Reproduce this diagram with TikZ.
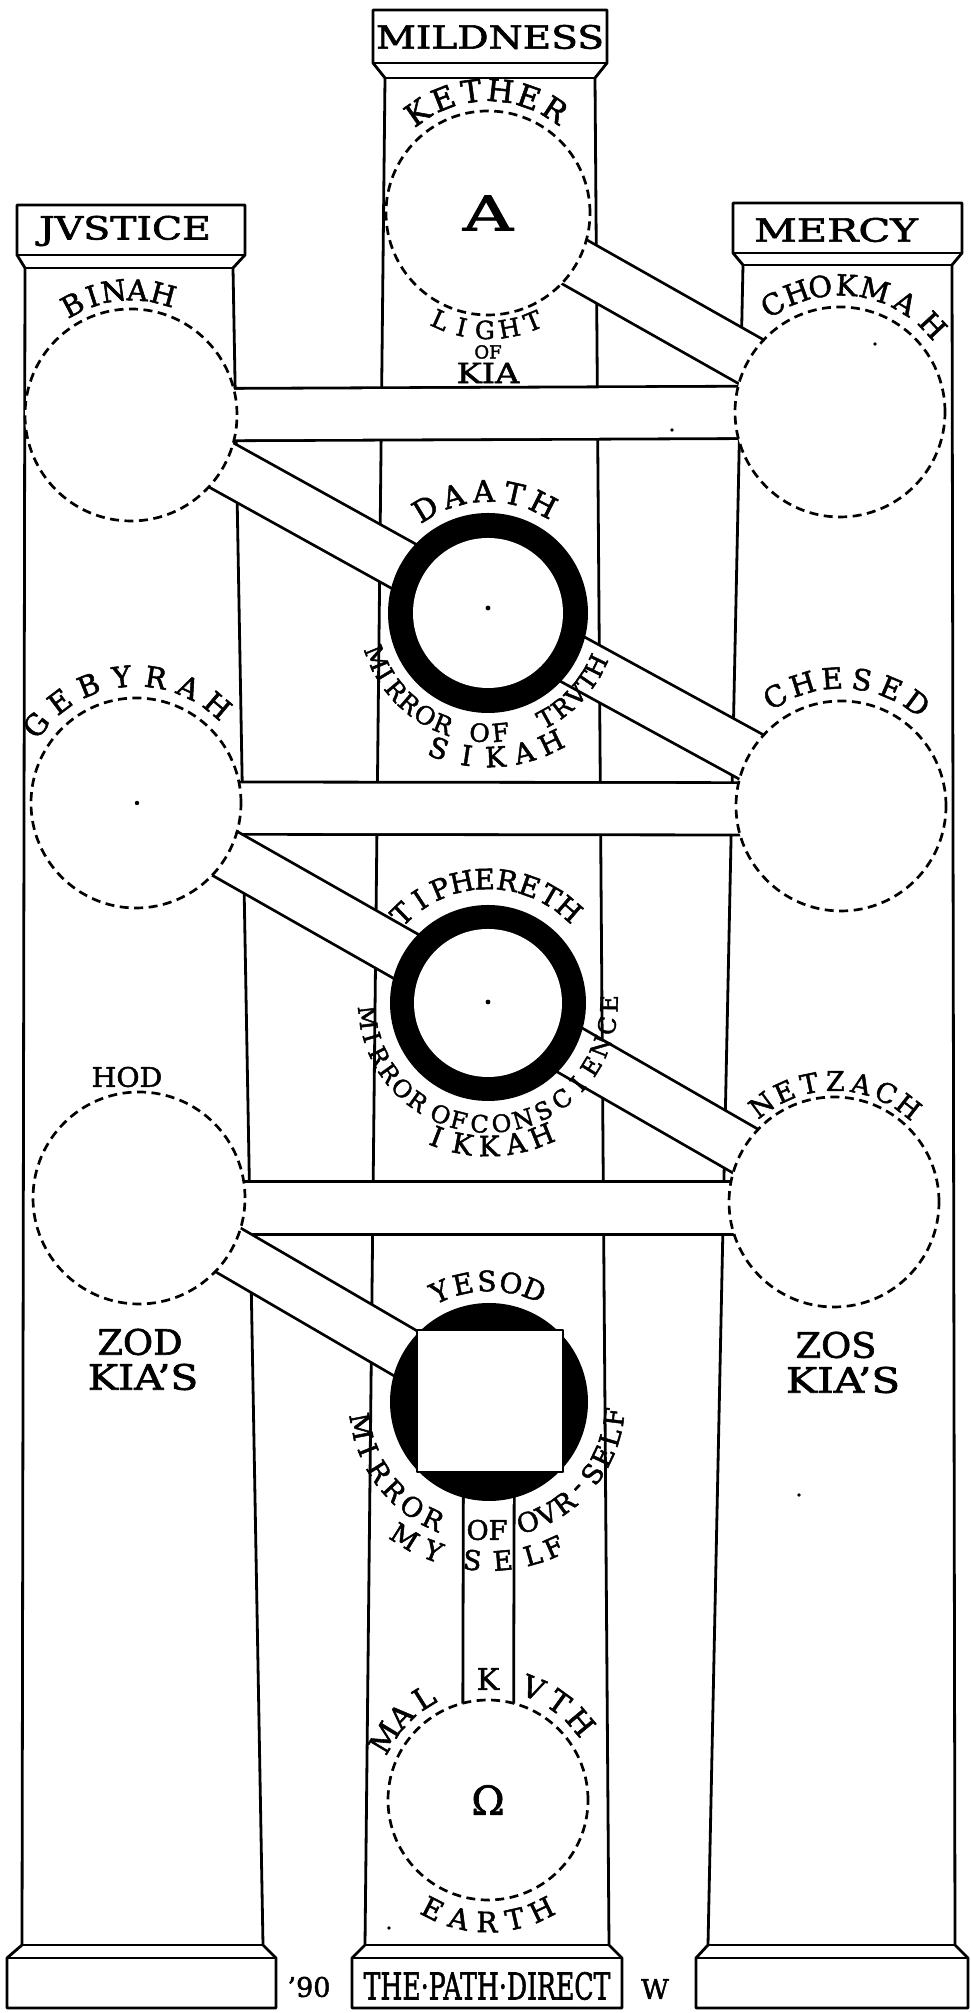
\documentclass[tikz,border=0pt]{standalone}
\usepackage{fontspec}
\setmainfont{DejaVu Serif}[FakeBold=1.8]
\usepackage{graphicx}
\usetikzlibrary{calc}
\newcommand\arcletters[6]{%
  \foreach \ch/\ang [count=\k] in {#6}{%
    \pgfmathsetmacro\rot{\ang+#3}%
    \node[inner sep=0pt, font=\fontsize{#5}{#5}\selectfont, rotate=\rot] (#4\k) at ($(#1)+(\ang:#2)$) {\ch};
  }}
\newcommand\hsc[2]{\scalebox{#1}[1]{#2}}
\begin{document}
\begin{tikzpicture}[x=1pt,y=1pt,line join=round]
\tikzset{
  ln/.style={line width=2.8pt},
  pillar/.style={line width=2.8pt, fill=white},
  bar/.style={line width=2.8pt, double=white, double distance=47.5pt},
  hbar/.style={line width=2.8pt, double=white, double distance=49.5pt},
  sephira/.style={circle, draw, line width=2.7pt, dash pattern=on 9pt off 5.5pt, fill=white, minimum size=#1, inner sep=0pt},
  ring/.style={circle, fill=black, minimum size=#1, inner sep=0pt},
  hole/.style={circle, fill=white, minimum size=#1, inner sep=0pt},
  txt/.style={inner sep=0pt, font=\fontsize{#1}{#1}\selectfont},
}
\fill[white] (0,0) rectangle (970,2013);
\useasboundingbox (0,0) rectangle (970,2013);

% ---------- pillars ----------
\draw[pillar] (7,5) -- (7,55) -- (22,68) -- (25,1745) -- (17,1758) -- (17,1808) -- (245,1808) -- (245,1758) -- (233,1745) -- (263,68) -- (276,55) -- (276,5) -- cycle;
\draw[ln] (7,55) -- (276,55) (22,68) -- (263,68) (25,1745) -- (233,1745) (17,1758) -- (245,1758);
\draw[pillar] (352,5) -- (352,55) -- (365,68) -- (385,1935) -- (373,1950) -- (373,2003) -- (607,2003) -- (607,1950) -- (595,1935) -- (609,68) -- (622,55) -- (622,5) -- cycle;
\draw[ln] (352,55) -- (622,55) (365,68) -- (609,68) (385,1935) -- (595,1935) (373,1950) -- (607,1950);
\draw[pillar] (696,5) -- (696,55) -- (708,68) -- (743,1748) -- (733,1760) -- (733,1810) -- (962,1810) -- (962,1760) -- (952,1748) -- (955,68) -- (968,55) -- (968,5) -- cycle;
\draw[ln] (696,55) -- (968,55) (708,68) -- (955,68) (743,1748) -- (952,1748) (733,1760) -- (962,1760);

% ---------- centres ----------
\coordinate (kether) at (488,1800);
\coordinate (binah) at (131,1598);
\coordinate (chokmah) at (840,1601);
\coordinate (daath) at (488,1400);
\coordinate (gebyrah) at (136,1210);
\coordinate (chesed) at (841,1207);
\coordinate (tiph) at (488,1010);
\coordinate (hod) at (139,815);
\coordinate (netzach) at (834,811);
\coordinate (yesod) at (489,611);
\coordinate (malkuth) at (488,213);

% ---------- paths ----------
\draw[bar] (kether) -- (chokmah);
\draw[hbar] (binah) -- (chokmah);
\draw[bar] (binah) -- (daath);
\draw[bar] (daath) -- (chesed);
\draw[hbar] ($(gebyrah)+(0,-5)$) -- ($(chesed)+(0,-3)$);
\draw[bar] (gebyrah) -- (tiph);
\draw[bar] (tiph) -- (netzach);
\draw[hbar] ($(hod)+(0,-10)$) -- ($(netzach)+(0,-6)$);
\draw[bar] (hod) -- (yesod);
\draw[line width=2.8pt, double=white, double distance=48pt] (yesod) -- (malkuth);

% ---------- sephiroth ----------
\node[sephira=204pt] (ketherC) at (kether) {};
\node[sephira=212pt] (binahC) at (binah) {};
\node[sephira=210pt] (chokmahC) at (chokmah) {};
\node[sephira=210pt] (gebyrahC) at (gebyrah) {};
\node[sephira=210pt] (chesedC) at (chesed) {};
\node[sephira=212pt] (hodC) at (hod) {};
\node[sephira=210pt] (netzachC) at (netzach) {};
\node[sephira=200pt] (malkuthC) at (malkuth) {};
\node[ring=200pt] (daathR) at (daath) {};
\node[hole=150pt] (daathI) at (daath) {};
\node[ring=196pt] (tiphR) at (tiph) {};
\node[hole=148pt] (tiphI) at (tiph) {};
\node[ring=198pt] (yesodR) at (yesod) {};
\node[draw, line width=1.2pt, fill=white, minimum width=146pt, minimum height=142pt, inner sep=0pt] (yesodSq) at (490,612) {};

% dots
\fill (488,1405) circle (2.4) (488,1011) circle (2.4) (137,1210) circle (2.2) (875,1669) circle (1.8) (672,1583) circle (1.8) (799,518) circle (1.8) (389,85) circle (1.8);

% ---------- capital and base texts ----------
\node[txt=32] (mildness) at (490,1976) {\hsc{1.22}{MILDNESS}};
\node[txt=32] (justice) at (125,1782) {\hsc{1.23}{JVSTICE}};
\node[txt=32] (mercy) at (836,1783) {\hsc{1.3}{MERCY}};
\node[txt=37] (pathdirect) at (487,27) {\hsc{0.68}{THE·PATH·DIRECT}};
\node[txt=27] (year) at (309,26) {’90};
\node[txt=27] (sign) at (655,24) {W};

% ---------- central glyphs ----------
\node[txt=48] (alpha) at (kether) {\hsc{1.45}{A}};
\node[txt=40] (omega) at (malkuth) {Ω};

% ---------- arc labels ----------
\arcletters{kether}{123}{-90}{kt}{31}{K/125,E/111.4,T/97.8,H/84.2,E/70.6,R/57}
\arcletters{kether}{117}{90}{lg}{25}{L/246,I/257,G/268.5,H/280.5,T/292.5}
\node[txt=18] (kof) at (488,1661) {OF};
\node[txt=28] (kia) at (488,1640) {\hsc{1.2}{KIA}};
\arcletters{binah}{125}{-90}{bn}{29}{B/118,I/108,N/98,A/87,H/75}
\arcletters{chokmah}{127}{-90}{ck}{29}{C/122,H/110,O/99,K/87,M/74,A/59,H/43}
\arcletters{daath}{122}{-90}{da}{30}{D/121,A/106.5,A/92,T/77.5,H/63}
\arcletters{daath}{120}{90}{mt}{25}{M/202,I/211,R/220,R/229,O/238.5,R/248,O/266,F/276,T/299,R/308,V/317,T/325.5,H/334}
\arcletters{daath}{144}{90}{sk}{28}{S/250,I/261.5,K/273,A/284.5,H/296}
\arcletters{gebyrah}{127}{-90}{gb}{29}{G/142,E/127,B/112,Y/96.5,R/81,A/65.5,H/50}
\arcletters{chesed}{128}{-90}{cs}{29}{C/121,H/107.5,E/94,S/80.5,E/67,D/53.5}
\arcletters{tiph}{124}{-90}{tp}{28}{T/134,I/123.4,P/112.8,H/102.2,E/91.6,R/81,E/70.4,T/59.8,H/49.2}
\arcletters{tiph}{121}{90}{mc}{24}{M/187,I/196.5,R/206,R/215.5,O/225,R/234.5,O/247,F/256,C/266,O/276.4,N/286.8,S/297.2,C/307.6,I/318,E/328.4,N/338.8,C/349.2,E/359.6}
\arcletters{tiph}{143}{90}{ik}{28}{I/249,K/259.75,K/270.5,A/281.25,H/292}
\node[txt=27] (hodT) at (127,936) {\hsc{1.05}{HOD}};
\arcletters{netzach}{121}{-90}{nz}{27}{N/126.7,E/114.25,T/101.8,Z/89.35,A/76.9,C/64.45,H/52}
\node[txt=35] (zod) at (140,671) {\hsc{1.05}{ZOD}};
\node[txt=35] (zodkia) at (143,636) {\hsc{1.16}{KIA’S}};
\node[txt=35] (zos) at (836,668) {\hsc{1.05}{ZOS}};
\node[txt=35] (zoskia) at (843,633) {\hsc{1.2}{KIA’S}};
\arcletters{yesod}{121}{-90}{ys}{28}{Y/114,E/102.5,S/91,O/79.5,D/68}
\arcletters{yesod}{130}{90}{ym}{27}{M/191,I/201.7,R/212.4,R/223.1,O/233.8,R/244.5}
\node[txt=27] (yof) at (487,483) {OF};
\arcletters{yesod}{126}{90}{yo}{27}{O/288,V/297.3,R/306.6,-/315.9,S/325.2,E/334.5,L/343.8,F/353.1}
\arcletters{yesod}{159}{90}{my}{27}{M/238,Y/249.5,S/264,E/275,L/286,F/294}
\arcletters{malkuth}{121}{-90}{mk}{30}{M/149,A/136,L/122,K/90,V/68,T/54,H/40}
\arcletters{malkuth}{122}{90}{ea}{28}{E/243,A/256.25,R/269.5,T/282.75,H/296}
\end{tikzpicture}
\end{document}
